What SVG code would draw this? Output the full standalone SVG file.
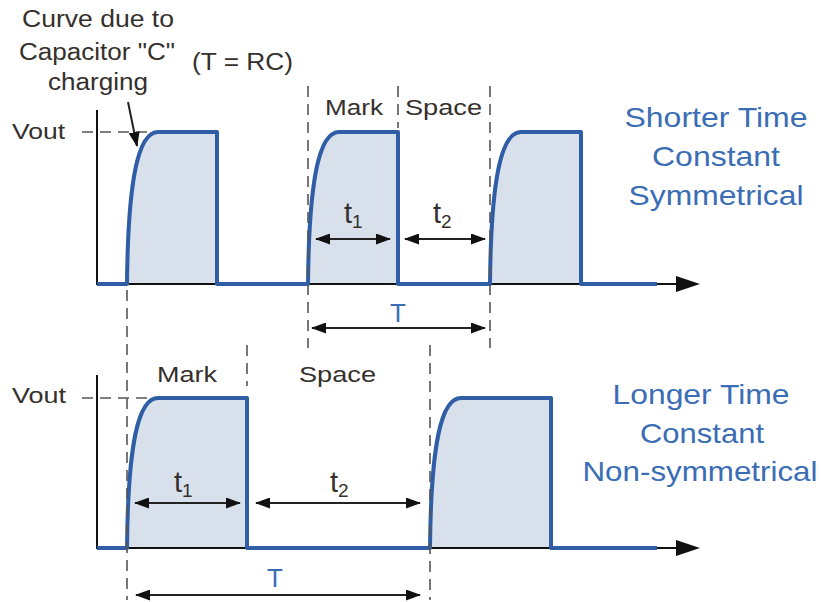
<svg xmlns="http://www.w3.org/2000/svg" width="821" height="602" viewBox="0 0 821 602">
<style>
.txt{font-family:"Liberation Sans",Arial,sans-serif;fill:#35302c}
.blue{font-family:"Liberation Sans",Arial,sans-serif;fill:#3b6db5}
.wave{fill:none;stroke:#2f5ea6;stroke-width:4;stroke-linejoin:round}
.pfill{fill:#d8e0ec;stroke:none}
.axis{fill:none;stroke:#111;stroke-width:2}
.dash{fill:none;stroke:#555;stroke-width:1.6;stroke-dasharray:11,7}
.dim{fill:none;stroke:#222;stroke-width:2}
</style>
<defs>
<marker id="ah" viewBox="0 0 15 11" refX="14" refY="5.5" markerWidth="15" markerHeight="11" markerUnits="userSpaceOnUse" orient="auto-start-reverse">
<path d="M0,0 L15,5.5 L0,11 Z" fill="#111"/>
</marker>
</defs>

<g id="labels-left">
<text class="txt" x="98" y="27" font-size="23" text-anchor="middle" textLength="152" lengthAdjust="spacingAndGlyphs">Curve due to</text>
<text class="txt" x="97" y="60" font-size="23" text-anchor="middle" textLength="156" lengthAdjust="spacingAndGlyphs">Capacitor "C"</text>
<text class="txt" x="98" y="90" font-size="23" text-anchor="middle" textLength="100" lengthAdjust="spacingAndGlyphs">charging</text>
<text class="txt" x="192" y="70" font-size="23" textLength="101" lengthAdjust="spacingAndGlyphs">(T = RC)</text>
</g>

<g id="top-graph">
<path class="pfill" d="M127,284 C128,180 138,132 158,132 H217 V284 Z M308,284 C309,180 319,132 339,132 H398 V284 Z M490,284 C491,180 501,132 521,132 H581 V284 Z"/>
<path class="axis" d="M97,110 V284 H680"/>
<polygon points="676,276 700,284 676,292" fill="#111"/>
<path class="wave" d="M97,284 H127 C128,180 138,132 158,132 H217 V284 H308 C309,180 319,132 339,132 H398 V284 H490 C491,180 501,132 521,132 H581 V284 H657"/>
<text class="txt" x="12" y="139" font-size="22" textLength="53" lengthAdjust="spacingAndGlyphs">Vout</text>
<path class="dash" d="M82,132 H150" stroke-dasharray="10,8"/>
<text class="txt" x="325" y="115" font-size="22" textLength="58" lengthAdjust="spacingAndGlyphs">Mark</text>
<text class="txt" x="405" y="115" font-size="22" textLength="77" lengthAdjust="spacingAndGlyphs">Space</text>
<text class="txt" x="344" y="223" font-size="29">t<tspan font-size="19" dy="5">1</tspan></text>
<text class="txt" x="433" y="223" font-size="29">t<tspan font-size="19" dy="5">2</tspan></text>
<text class="blue" x="398" y="322" font-size="26" text-anchor="middle">T</text>
</g>

<g id="bottom-graph">
<path class="pfill" d="M127,548 C128,444 138,398 158,398 H247 V548 Z M430,548 C431,444 441,398 461,398 H551 V548 Z"/>
<path class="axis" d="M97,375 V548 H680"/>
<polygon points="676,540 700,548 676,556" fill="#111"/>
<path class="wave" d="M97,548 H127 C128,444 138,398 158,398 H247 V548 H430 C431,444 441,398 461,398 H551 V548 H657"/>
<text class="txt" x="12" y="403" font-size="22" textLength="54" lengthAdjust="spacingAndGlyphs">Vout</text>
<path class="dash" d="M82,398 H150" stroke-dasharray="10,8"/>
<text class="txt" x="157" y="382" font-size="22" textLength="60" lengthAdjust="spacingAndGlyphs">Mark</text>
<text class="txt" x="299" y="382" font-size="22" textLength="77" lengthAdjust="spacingAndGlyphs">Space</text>
<text class="txt" x="174" y="492" font-size="29">t<tspan font-size="19" dy="5">1</tspan></text>
<text class="txt" x="330" y="492" font-size="29">t<tspan font-size="19" dy="5">2</tspan></text>
<text class="blue" x="275" y="587" font-size="26" text-anchor="middle">T</text>
</g>

<g id="labels-right">
<text class="blue" x="716" y="127" font-size="28" text-anchor="middle" textLength="183" lengthAdjust="spacingAndGlyphs">Shorter Time</text>
<text class="blue" x="716" y="166" font-size="28" text-anchor="middle" textLength="128" lengthAdjust="spacingAndGlyphs">Constant</text>
<text class="blue" x="716" y="205" font-size="28" text-anchor="middle" textLength="175" lengthAdjust="spacingAndGlyphs">Symmetrical</text>
<text class="blue" x="701" y="404" font-size="28" text-anchor="middle" textLength="177" lengthAdjust="spacingAndGlyphs">Longer Time</text>
<text class="blue" x="702" y="443" font-size="28" text-anchor="middle" textLength="124" lengthAdjust="spacingAndGlyphs">Constant</text>
<text class="blue" x="700" y="481" font-size="28" text-anchor="middle" textLength="235" lengthAdjust="spacingAndGlyphs">Non-symmetrical</text>
</g>

<g id="connectors">
<path class="dash" d="M127,290 V600"/>
<path class="dash" d="M308,86 V348"/>
<path class="dash" d="M398,86 V128"/>
<path class="dash" d="M490,86 V348"/>
<path class="dash" d="M247,345 V386"/>
<path class="dash" d="M430,345 V600"/>
<line class="dim" x1="128" y1="102" x2="137" y2="146" marker-end="url(#ah)"/>
<line class="dim" x1="316" y1="239" x2="390" y2="239" marker-start="url(#ah)" marker-end="url(#ah)"/>
<line class="dim" x1="405" y1="239" x2="485" y2="239" marker-start="url(#ah)" marker-end="url(#ah)"/>
<line class="dim" x1="312" y1="328" x2="485" y2="328" marker-start="url(#ah)" marker-end="url(#ah)"/>
<line class="dim" x1="135" y1="503" x2="240" y2="503" marker-start="url(#ah)" marker-end="url(#ah)"/>
<line class="dim" x1="256" y1="503" x2="420" y2="503" marker-start="url(#ah)" marker-end="url(#ah)"/>
<line class="dim" x1="136" y1="595" x2="420" y2="595" marker-start="url(#ah)" marker-end="url(#ah)"/>
</g>
</svg>
